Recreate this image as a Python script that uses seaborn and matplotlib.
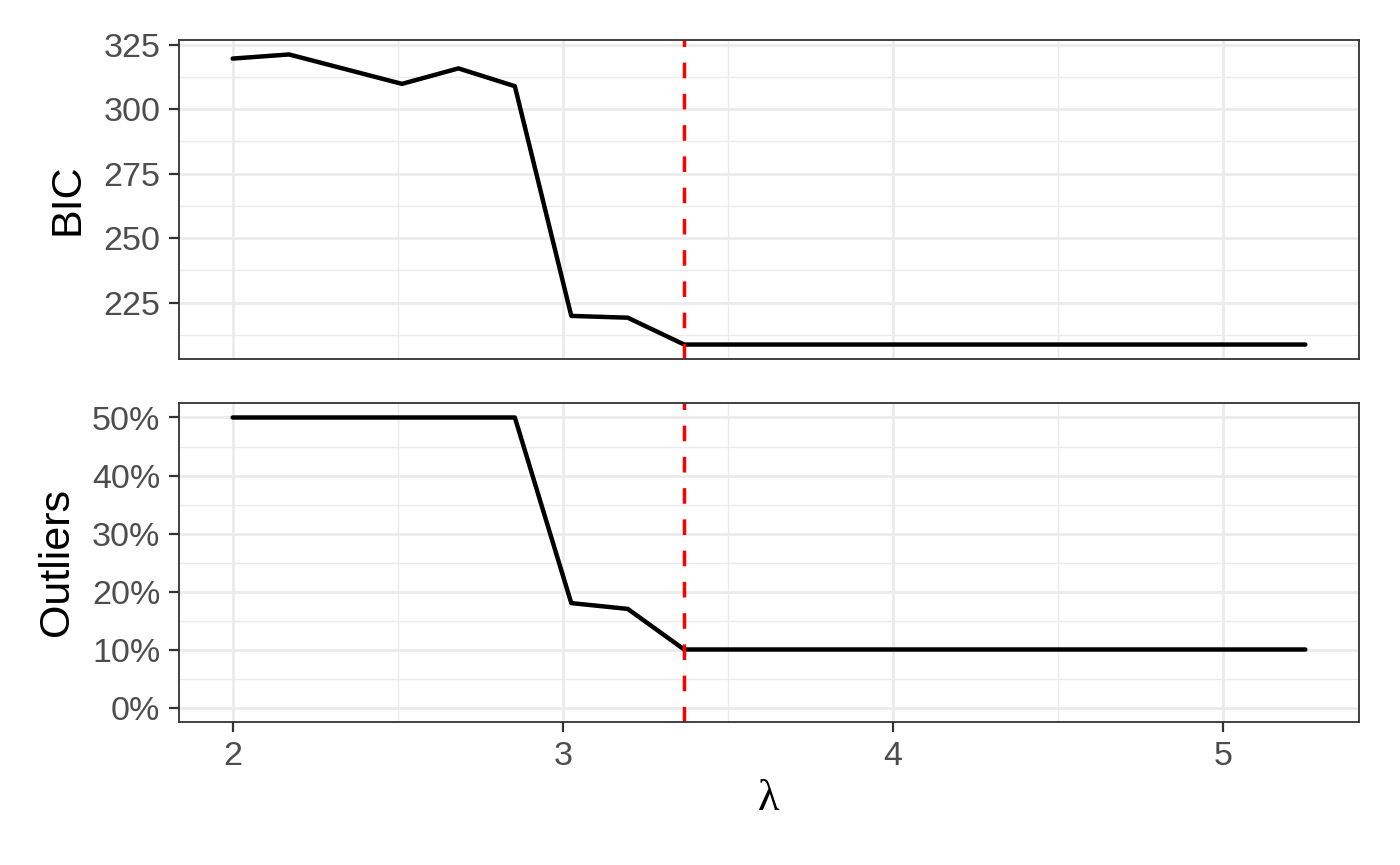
import numpy as np
import pandas as pd
import seaborn as sns
import matplotlib.pyplot as plt
from matplotlib.ticker import FuncFormatter, MultipleLocator

# values
lambdas = [2.000, 2.171, 2.342, 2.513, 2.684, 2.855, 3.026, 3.197, 3.368, 3.539,
           3.711, 3.882, 4.053, 4.224, 4.395, 4.566, 4.737, 4.908, 5.079, 5.250]
bic = [319.6, 321.2, 315.5, 309.8, 315.8, 308.9, 219.9, 219.2, 208.8, 208.8,
       208.8, 208.8, 208.8, 208.8, 208.8, 208.8, 208.8, 208.8, 208.8, 208.8]
outliers = [0.50, 0.50, 0.50, 0.50, 0.50, 0.50, 0.18, 0.17, 0.10, 0.10,
            0.10, 0.10, 0.10, 0.10, 0.10, 0.10, 0.10, 0.10, 0.10, 0.10]
best_lambda = 3.368

df = pd.DataFrame({"lambda": lambdas, "BIC": bic, "Outliers": outliers})

sns.set_theme(style="white")
plt.rcParams["font.family"] = ["Liberation Sans", "DejaVu Sans"]

fig = plt.figure(figsize=(14, 8.65), dpi=100)
ax1 = fig.add_axes([179 / 1400, 1 - 359 / 865, 1180 / 1400, 319 / 865])
ax2 = fig.add_axes([179 / 1400, 1 - 722 / 865, 1180 / 1400, 319 / 865], sharex=ax1)

for ax, col in [(ax1, "BIC"), (ax2, "Outliers")]:
    ax.set_axisbelow(True)
    sns.lineplot(data=df, x="lambda", y=col, ax=ax, color="black", linewidth=3.2)
    ax.axvline(best_lambda, color="#FF0000", linestyle=(0, (4.5, 4.5)), linewidth=2.5)
    ax.xaxis.set_major_locator(MultipleLocator(1))
    ax.xaxis.set_minor_locator(MultipleLocator(0.5))
    ax.grid(which="major", color="#EBEBEB", linewidth=2.0)
    ax.grid(which="minor", color="#EBEBEB", linewidth=1.0)
    for s in ax.spines.values():
        s.set_color("#333333")
        s.set_linewidth(1.3)
    ax.tick_params(which="major", direction="out", length=7, width=1.6,
                   color="#333333", labelcolor="#4D4D4D", labelsize=24.5, pad=6.5,
                   left=True, bottom=True)
    ax.tick_params(which="minor", length=0)
    ax.set_ylabel(col, fontsize=31, color="black", labelpad=11)
    ax.set_xlim(1.8375, 5.4125)

ax1.set_ylim(203.2, 326.8)
ax1.yaxis.set_major_locator(MultipleLocator(25))
ax1.yaxis.set_minor_locator(MultipleLocator(12.5))
ax1.set_xlabel("")
ax1.tick_params(axis="x", which="both", bottom=False, labelbottom=False)

ax2.set_ylim(-0.025, 0.525)
ax2.yaxis.set_major_locator(MultipleLocator(0.1))
ax2.yaxis.set_minor_locator(MultipleLocator(0.05))
ax2.yaxis.set_major_formatter(FuncFormatter(lambda v, p: f"{v * 100:.0f}%"))
ax2.set_xlabel("λ", fontsize=32, color="black", family="Liberation Serif", labelpad=5)

fig.savefig("out.png", dpi=100, facecolor="white")
